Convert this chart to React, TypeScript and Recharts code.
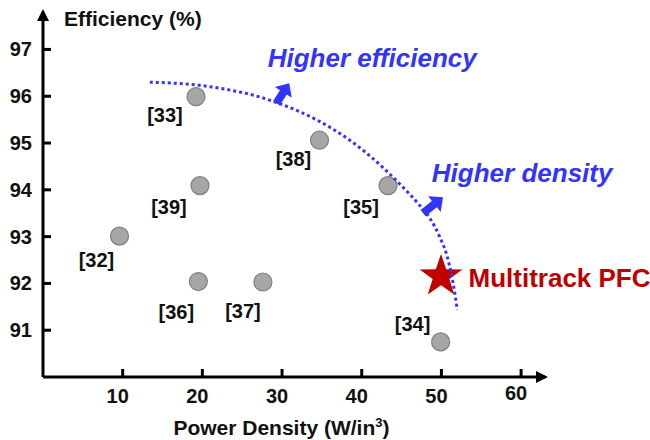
import React from "react";
import {
  ScatterChart,
  Scatter,
  XAxis,
  YAxis,
  ReferenceLine,
  ReferenceDot,
  Label,
} from "recharts";

// reference designs: [ref], power density (W/in3), efficiency (%)
const refNames = ["[32]", "[33]", "[34]", "[35]", "[36]", "[37]", "[38]", "[39]"];
const refDensity = [9.6, 19.2, 49.9, 43.3, 19.5, 27.6, 34.7, 19.7];
const refEfficiency = [93.01, 95.99, 90.75, 94.09, 92.04, 92.03, 95.06, 94.09];

// this work
const pfcDensity = 49.95;
const pfcEfficiency = 92.15;

// dotted pareto boundary
const boundaryDensity = [13.4, 19.3, 23.5, 26.0, 29.4, 34.4, 38.5, 42.7, 44.8, 46.9, 48.6, 49.8, 50.7, 51.3, 52.0];
const boundaryEfficiency = [96.3, 96.24, 96.13, 96.04, 95.86, 95.49, 95.06, 94.47, 94.12, 93.74, 93.38, 92.99, 92.59, 92.16, 91.43];

const xTicks = [10, 20, 30, 40, 50, 60];
const yTicks = [91, 92, 93, 94, 95, 96, 97];

const refData = refNames.map((name, i) => ({ name, x: refDensity[i], y: refEfficiency[i] }));
const pfcData = [{ x: pfcDensity, y: pfcEfficiency }];
const boundaryData = boundaryDensity.map((x, i) => ({ x, y: boundaryEfficiency[i] }));

// label placement around each dot (px)
const labelOffsets: Record<string, [number, number]> = {
  "[32]": [-23, 24],
  "[33]": [-31, 18],
  "[34]": [-28, -18],
  "[35]": [-27, 21],
  "[36]": [-22, 30],
  "[37]": [-20, 29],
  "[38]": [-26, 19],
  "[39]": [-31, 21],
};

const FONT = "'Liberation Sans', Arial, sans-serif";
const BLUE = "#3333FF";
const RED = "#C00000";

function RefDot(props: any) {
  const { cx, cy, payload } = props;
  const [dx, dy] = labelOffsets[payload.name] || [-26, 22];
  return (
    <g>
      <circle cx={cx} cy={cy} r={9} fill="#A6A6A6" stroke="#808080" strokeWidth={1.2} />
      <text
        x={cx + dx}
        y={cy + dy + 7}
        textAnchor="middle"
        fontFamily={FONT}
        fontWeight="bold"
        fontSize={20}
        fill="#111"
      >
        {payload.name}
      </text>
    </g>
  );
}

function Star(props: any) {
  const { cx, cy } = props;
  const R = 22.5;
  const r = 8.8;
  const pts: string[] = [];
  for (let k = 0; k < 10; k++) {
    const a = -Math.PI / 2 + (k * Math.PI) / 5;
    const rad = k % 2 === 0 ? R : r;
    pts.push(`${cx + rad * Math.cos(a)},${cy + rad * Math.sin(a)}`);
  }
  return <polygon points={pts.join(" ")} fill={RED} />;
}

function BlockArrow(props: any) {
  const { x1, y1, x2, y2 } = props;
  const len = Math.hypot(x2 - x1, y2 - y1);
  const ux = (x2 - x1) / len;
  const uy = (y2 - y1) / len;
  const px = -uy;
  const py = ux;
  const head = 11;
  const sw = 4;
  const hw = 10;
  const bx = x2 - ux * head;
  const by = y2 - uy * head;
  const p = [
    [x1 + px * sw, y1 + py * sw],
    [bx + px * sw, by + py * sw],
    [bx + px * hw, by + py * hw],
    [x2, y2],
    [bx - px * hw, by - py * hw],
    [bx - px * sw, by - py * sw],
    [x1 - px * sw, y1 - py * sw],
  ];
  return <polygon points={p.map((q) => q.join(",")).join(" ")} fill={BLUE} />;
}

function XTick(props: any) {
  const { x, y, payload } = props;
  const lift = payload.value === 60 ? 3 : 0;
  return (
    <text
      x={x - 5}
      y={y + 14 - lift}
      textAnchor="middle"
      fontFamily={FONT}
      fontWeight="bold"
      fontSize={20}
      fill="#111"
    >
      {payload.value}
    </text>
  );
}

function YTick(props: any) {
  const { x, y, payload } = props;
  return (
    <text
      x={x}
      y={y + 7}
      textAnchor="end"
      fontFamily={FONT}
      fontWeight="bold"
      fontSize={20}
      fill="#111"
    >
      {payload.value}
    </text>
  );
}

function annotation(text: string, color: string, size: number, italic: boolean) {
  return (p: any) => (
    <text
      x={p.cx}
      y={p.cy}
      fontFamily={FONT}
      fontWeight="bold"
      fontStyle={italic ? "italic" : "normal"}
      fontSize={size}
      fill={color}
    >
      {text}
    </text>
  );
}

export default function App() {
  return (
    <div style={{ position: "absolute", left: 0, top: 0, width: 650, height: 440, background: "#fff" }}>
      <svg width={0} height={0} style={{ position: "absolute" }}>
        <defs>
          <marker
            id="axisArrow"
            viewBox="0 0 12 12"
            markerWidth={12}
            markerHeight={12}
            refX={9}
            refY={6}
            orient="auto-start-reverse"
            markerUnits="userSpaceOnUse"
          >
            <path d="M0,0 L12,6 L0,12 z" fill="#000" />
          </marker>
        </defs>
      </svg>
      <ScatterChart width={650} height={440} margin={{ top: 12, right: 105, bottom: 0, left: 0 }}>
        <XAxis
          type="number"
          dataKey="x"
          domain={[0, 63]}
          ticks={xTicks}
          allowDataOverflow
          height={63}
          tickSize={-8}
          tickMargin={20}
          tick={<XTick />}
          axisLine={{ stroke: "#000", strokeWidth: 3, markerEnd: "url(#axisArrow)" }}
          tickLine={{ stroke: "#000", strokeWidth: 3 }}
          label={
            <Label
              content={(lp: any) => {
                const vb = lp.viewBox || { x: 43, y: 377, width: 502, height: 63 };
                return (
                  <text
                    x={vb.x + vb.width * 0.475}
                    y={vb.y + 58}
                    textAnchor="middle"
                    fontFamily={FONT}
                    fontWeight="bold"
                    fontSize={21}
                    fill="#111"
                  >
                    Power Density (W/in
                    <tspan dy={-8} fontSize={13}>3</tspan>
                    <tspan dy={8}>)</tspan>
                  </text>
                );
              }}
            />
          }
        />
        <YAxis
          type="number"
          dataKey="y"
          domain={[90, 97.8]}
          ticks={yTicks}
          allowDataOverflow
          width={43}
          tickSize={-8}
          tickMargin={19}
          tick={<YTick />}
          axisLine={{ stroke: "#000", strokeWidth: 3, markerStart: "url(#axisArrow)" }}
          tickLine={{ stroke: "#000", strokeWidth: 3 }}
          label={
            <Label
              content={(lp: any) => {
                const vb = lp.viewBox || { x: 0, y: 12, width: 43, height: 365 };
                return (
                  <text
                    x={vb.x + vb.width + 21}
                    y={vb.y + 14}
                    fontFamily={FONT}
                    fontWeight="bold"
                    fontSize={21}
                    fill="#111"
                  >
                    Efficiency (%)
                  </text>
                );
              }}
            />
          }
        />
        <Scatter data={refData} shape={<RefDot />} isAnimationActive={false} />
        <Scatter data={pfcData} shape={<Star />} isAnimationActive={false} />
        <Scatter
          data={boundaryData}
          line={{ stroke: BLUE, strokeWidth: 3, strokeDasharray: "3 3" }}
          lineJointType="monotoneX"
          shape={() => <g />}
          isAnimationActive={false}
        />
        <ReferenceLine
          segment={[{ x: 29.3, y: 95.85 }, { x: 30.9, y: 96.28 }]}
          shape={BlockArrow}
          ifOverflow="visible"
        />
        <ReferenceLine
          segment={[{ x: 47.7, y: 93.5 }, { x: 50.2, y: 93.84 }]}
          shape={BlockArrow}
          ifOverflow="visible"
        />
        <ReferenceDot x={28.2} y={96.63} ifOverflow="visible" shape={annotation("Higher efficiency", BLUE, 26, true)} />
        <ReferenceDot x={48.8} y={94.17} ifOverflow="visible" shape={annotation("Higher density", BLUE, 26, true)} />
        <ReferenceDot x={53.4} y={91.93} ifOverflow="visible" shape={annotation("Multitrack PFC", RED, 26, false)} />
      </ScatterChart>
    </div>
  );
}
